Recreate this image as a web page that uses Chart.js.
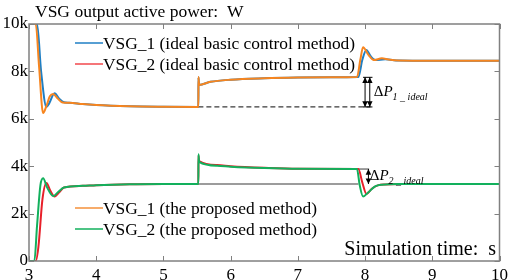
<!DOCTYPE html>
<html>
<head>
<meta charset="utf-8">
<script src="https://cdn.jsdelivr.net/npm/chart.js@4/dist/chart.umd.min.js"></script>
<style>
    html, body { margin: 0; padding: 0; background: #ffffff; }
</style>
</head>
<body>
<canvas id="chart" width="512" height="280"></canvas>
<script>
// time (s) and active power (W)
const idealT1 = [3.0, 3.12, 3.18, 3.26, 3.3, 3.38, 3.45, 3.52, 3.6, 3.8, 4.0, 4.5, 5.0, 5.52, 5.521, 5.53, 5.7, 6.0, 6.5, 7.0, 7.5, 7.9, 7.96, 8.02, 8.08, 8.15, 8.3, 8.5, 9.0, 10.0];
const idealP1 = [10000, 10000, 8000, 6500, 6650, 7080, 6850, 6700, 6680, 6620, 6580, 6530, 6510, 6500, 7750, 7430, 7560, 7650, 7710, 7740, 7750, 7760, 8500, 8900, 8650, 8480, 8510, 8460, 8450, 8450];

const idealT2 = [3.0, 3.1, 3.15, 3.21, 3.26, 3.31, 3.36, 3.42, 3.5, 3.6, 3.8, 4.0, 4.5, 5.0, 5.52, 5.521, 5.53, 5.7, 6.0, 6.5, 7.0, 7.5, 7.88, 7.93, 7.97, 8.05, 8.13, 8.25, 8.35, 8.5, 9.0, 10.0];
const idealP2 = [10000, 10000, 8200, 6240, 6550, 6950, 7050, 6880, 6690, 6680, 6620, 6580, 6530, 6510, 6500, 7760, 7430, 7560, 7650, 7710, 7740, 7750, 7760, 8500, 9020, 8700, 8480, 8550, 8500, 8460, 8450, 8450];

const propT1 = [3.0, 3.1, 3.14, 3.2, 3.26, 3.32, 3.38, 3.45, 3.52, 3.8, 4.0, 4.5, 5.0, 5.52, 5.521, 5.53, 5.8, 6.0, 6.5, 7.0, 7.9, 7.96, 8.02, 8.1, 8.2, 8.3, 8.5, 10.0];
const propP1 = [0, 0, 600, 2600, 3290, 2950, 2720, 2900, 3100, 3170, 3200, 3240, 3250, 3250, 4450, 4220, 4050, 4000, 3930, 3890, 3880, 3300, 2830, 3050, 3200, 3230, 3250, 3250];

const propT2 = [3.0, 3.08, 3.12, 3.17, 3.21, 3.27, 3.36, 3.43, 3.52, 3.8, 4.0, 4.5, 5.0, 5.52, 5.521, 5.53, 5.8, 6.0, 6.5, 7.0, 7.88, 7.92, 7.97, 8.05, 8.15, 8.25, 8.5, 10.0];
const propP2 = [0, 0, 1500, 3200, 3490, 3100, 2740, 2900, 3100, 3170, 3200, 3240, 3250, 3250, 4500, 4180, 4020, 3980, 3920, 3890, 3880, 3200, 2720, 2900, 3150, 3220, 3250, 3250];

// reference levels for the two power increments
const refIdealT = [5.52, 8.08];
const refIdealP = [6500, 6500];
const refPropT = [5.52, 7.9];
const refPropP = [3250, 3250];
const capPropT = [7.88, 8.06];
const capPropP = [3880, 3880];

const xTicks = [3, 4, 5, 6, 7, 8, 9, 10];
const yTicks = [0, 2000, 4000, 6000, 8000, 10000];

const legendIdeal = ["VSG_1 (ideal basic control method)", "VSG_2 (ideal basic control method)"];
const legendProp = ["VSG_1 (the proposed method)", "VSG_2 (the proposed method)"];

const COLORS = {
    blue: "#1f7fc4",
    orange: "#f7851f",
    red: "#e8202a",
    legendRed: "#f2474d",
    legendOrange: "#f5913a",
    green: "#12b05c",
    frame: "#808080",
    ref: "#3a3a3a",
    text: "#000000",
};

const SERIF = "'Liberation Serif', 'Times New Roman', serif";

function toPoints(ts, ps) {
    return ts.map((t, i) => ({ x: t, y: ps[i] }));
}

function curve(label, ts, ps, color, order) {
    return {
        label,
        data: toPoints(ts, ps),
        borderColor: color,
        backgroundColor: color,
        borderWidth: 2,
        pointRadius: 0,
        cubicInterpolationMode: "monotone",
        order,
    };
}

function refLine(ts, ps, dash, width) {
    return {
        label: "",
        data: toPoints(ts, ps),
        borderColor: COLORS.ref,
        borderWidth: width,
        borderDash: dash,
        pointRadius: 0,
        tension: 0,
        order: 10,
    };
}

function drawArrow(ctx, x, yTop, yBottom) {
    const head = 3.5;
    ctx.beginPath();
    ctx.moveTo(x, yTop);
    ctx.lineTo(x, yBottom);
    ctx.stroke();
    ctx.beginPath();
    ctx.moveTo(x, yTop);
    ctx.lineTo(x - head * 0.8, yTop + head * 1.6);
    ctx.lineTo(x + head * 0.8, yTop + head * 1.6);
    ctx.closePath();
    ctx.fill();
    ctx.beginPath();
    ctx.moveTo(x, yBottom);
    ctx.lineTo(x - head * 0.8, yBottom - head * 1.6);
    ctx.lineTo(x + head * 0.8, yBottom - head * 1.6);
    ctx.closePath();
    ctx.fill();
}

function drawDelta(ctx, x, y, sub) {
    ctx.textAlign = "left";
    ctx.textBaseline = "alphabetic";
    ctx.font = "15px " + SERIF;
    ctx.fillText("\u0394", x, y);
    let w = ctx.measureText("\u0394").width;
    ctx.font = "italic 15px " + SERIF;
    ctx.fillText("P", x + w, y);
    w += ctx.measureText("P").width;
    ctx.font = "italic 10px " + SERIF;
    ctx.fillText(sub, x + w, y + 4);
}

const decorPlugin = {
    id: "decor",
    afterDraw(chart) {
        const { ctx, chartArea: area, scales } = chart;
        const xs = scales.x;
        const ys = scales.y;
        ctx.save();

        // box with inward ticks
        ctx.strokeStyle = COLORS.frame;
        ctx.lineWidth = 1.5;
        ctx.strokeRect(area.left, area.top, area.right - area.left, area.bottom - area.top);
        ctx.lineWidth = 1;
        ctx.beginPath();
        xTicks.forEach((t) => {
            const px = Math.round(xs.getPixelForValue(t)) + 0.5;
            ctx.moveTo(px, area.bottom);
            ctx.lineTo(px, area.bottom - 5);
            ctx.moveTo(px, area.top);
            ctx.lineTo(px, area.top + 5);
        });
        yTicks.forEach((v) => {
            const py = Math.round(ys.getPixelForValue(v)) + 0.5;
            ctx.moveTo(area.left, py);
            ctx.lineTo(area.left + 5, py);
            ctx.moveTo(area.right, py);
            ctx.lineTo(area.right - 5, py);
        });
        ctx.stroke();

        // increment arrows
        ctx.strokeStyle = COLORS.text;
        ctx.fillStyle = COLORS.text;
        ctx.lineWidth = 1;
        const y1a = ys.getPixelForValue(7750);
        const y1b = ys.getPixelForValue(6500);
        ctx.beginPath();
        ctx.moveTo(xs.getPixelForValue(7.97), y1a);
        ctx.lineTo(xs.getPixelForValue(8.11), y1a);
        ctx.moveTo(xs.getPixelForValue(7.97), y1b);
        ctx.lineTo(xs.getPixelForValue(8.11), y1b);
        ctx.stroke();
        drawArrow(ctx, xs.getPixelForValue(8.0), y1a, y1b);
        drawArrow(ctx, xs.getPixelForValue(8.07), y1a, y1b);
        drawArrow(ctx, xs.getPixelForValue(8.05), ys.getPixelForValue(3880), ys.getPixelForValue(3250));

        drawDelta(ctx, xs.getPixelForValue(8.13), 96, "1 _ ideal");
        drawDelta(ctx, xs.getPixelForValue(8.07), 180, "2 _ ideal");

        // legends
        ctx.font = "17.4px " + SERIF;
        ctx.textAlign = "left";
        ctx.textBaseline = "alphabetic";
        const legendRows = [
            { y: 43, color: COLORS.blue, text: legendIdeal[0] },
            { y: 64, color: COLORS.legendRed, text: legendIdeal[1] },
            { y: 208, color: COLORS.legendOrange, text: legendProp[0] },
            { y: 229, color: COLORS.green, text: legendProp[1] },
        ];
        legendRows.forEach((row) => {
            ctx.strokeStyle = row.color;
            ctx.lineWidth = 1.5;
            ctx.beginPath();
            ctx.moveTo(75, row.y);
            ctx.lineTo(103, row.y);
            ctx.stroke();
            ctx.fillStyle = COLORS.text;
            ctx.fillText(row.text, 103, row.y + 6);
        });

        // titles
        ctx.font = "17.5px " + SERIF;
        ctx.fillText("VSG output active power:  W", 35, 17);
        ctx.font = "20px " + SERIF;
        ctx.textAlign = "right";
        ctx.fillText("Simulation time:  s", 496, 255);

        ctx.restore();
    },
};

new Chart(document.getElementById("chart"), {
    type: "line",
    data: {
        datasets: [
            curve(legendIdeal[0], idealT1, idealP1, COLORS.blue, 2),
            curve(legendIdeal[1], idealT2, idealP2, COLORS.orange, 1),
            curve(legendProp[0], propT1, propP1, COLORS.red, 4),
            curve(legendProp[1], propT2, propP2, COLORS.green, 3),
            refLine(refIdealT, refIdealP, [5, 3], 1.2),
            refLine(refPropT, refPropP, [], 1.2),
            refLine(capPropT, capPropP, [], 1),
        ],
    },
    options: {
        responsive: false,
        animation: false,
        devicePixelRatio: 1,
        layout: {
            padding: { top: 24, right: 10, left: 0, bottom: 0 },
        },
        plugins: {
            legend: { display: false },
            tooltip: { enabled: false },
            title: { display: false },
        },
        scales: {
            x: {
                type: "linear",
                min: 3,
                max: 10,
                afterBuildTicks: (scale) => {
                    scale.ticks = xTicks.map((v) => ({ value: v }));
                },
                afterFit: (scale) => {
                    scale.height = 19;
                },
                grid: { display: false, drawTicks: false },
                border: { display: false },
                ticks: {
                    color: COLORS.text,
                    padding: 4,
                    maxRotation: 0,
                    font: { family: SERIF, size: 17 },
                },
            },
            y: {
                min: 0,
                max: 10000,
                afterBuildTicks: (scale) => {
                    scale.ticks = yTicks.map((v) => ({ value: v }));
                },
                afterFit: (scale) => {
                    scale.width = 29;
                },
                grid: { display: false, drawTicks: false },
                border: { display: false },
                ticks: {
                    color: COLORS.text,
                    padding: 1,
                    font: { family: SERIF, size: 17 },
                    callback: (v) => (v === 0 ? "0" : v / 1000 + "k"),
                },
            },
        },
    },
    plugins: [decorPlugin],
});
</script>
</body>
</html>
